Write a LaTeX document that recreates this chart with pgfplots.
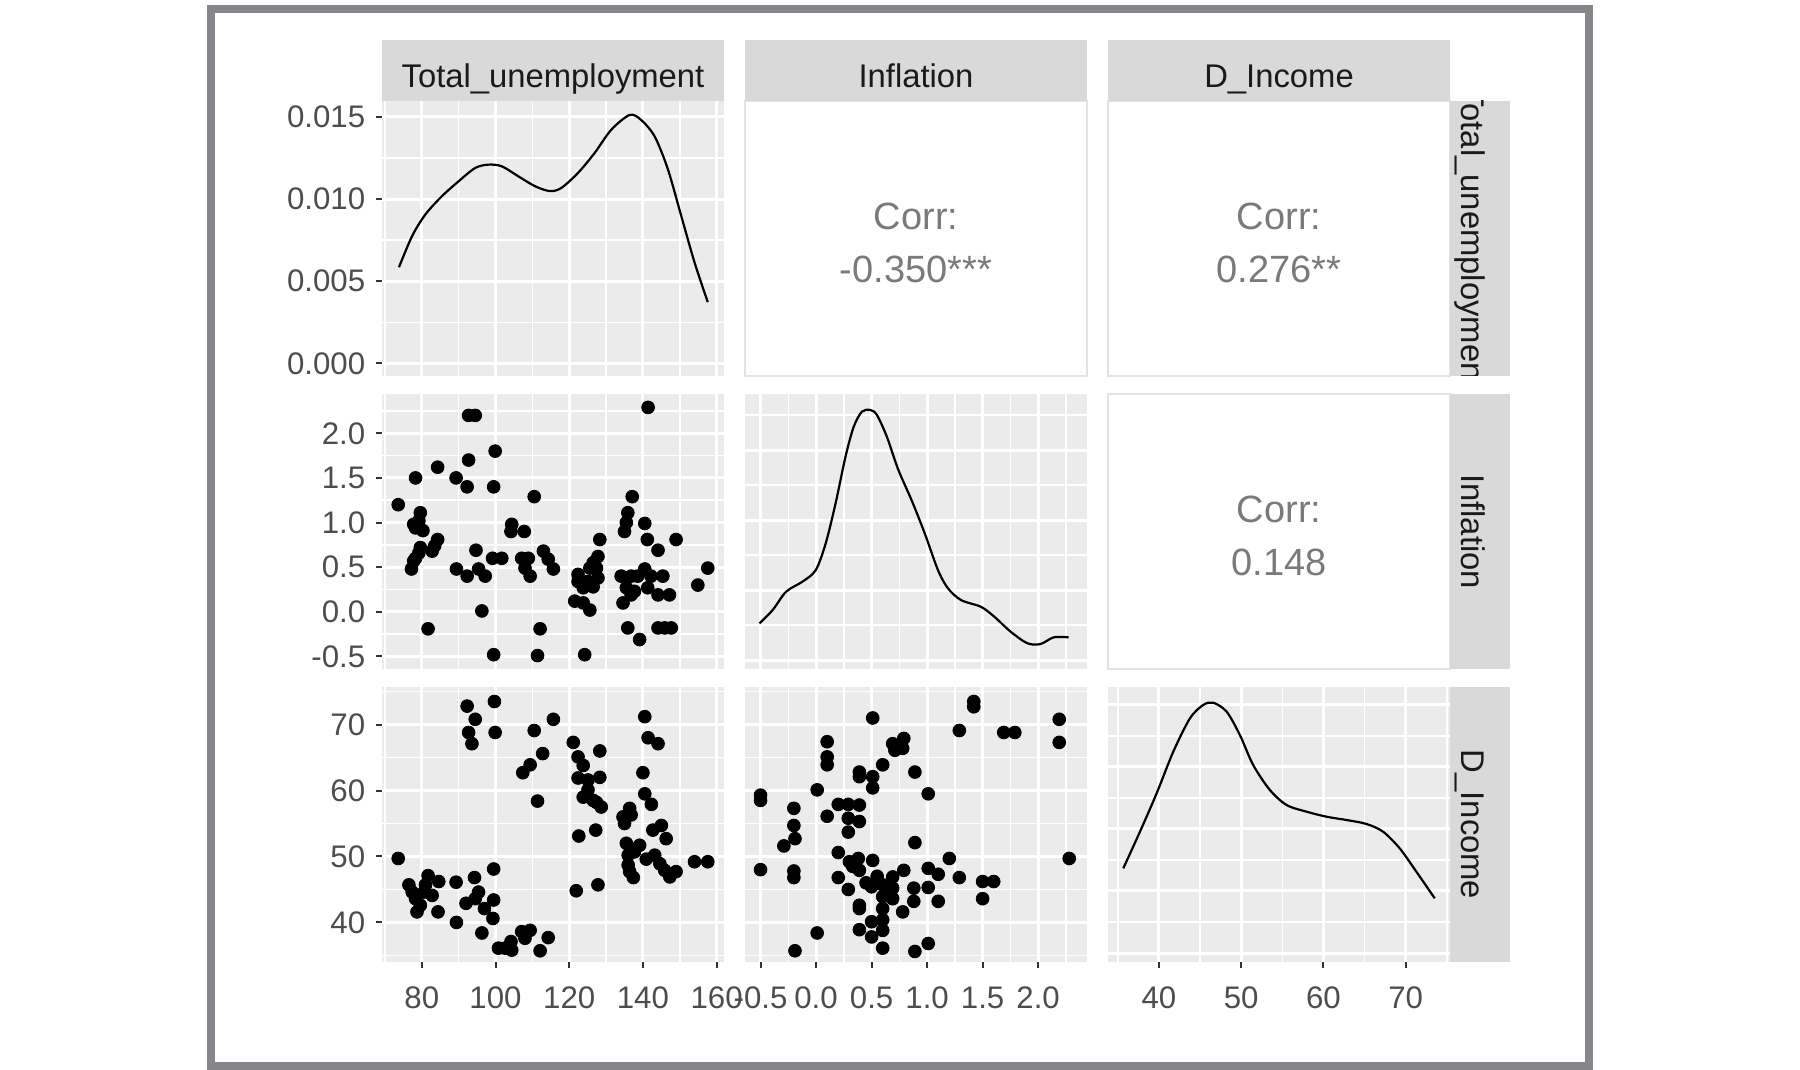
\documentclass[border=0pt]{standalone}
\usepackage{fontspec}
\setmainfont{Liberation Sans}
\usepackage{pgfplots}
\pgfplotsset{compat=1.18}
\definecolor{pbg}{HTML}{EBEBEB}
\definecolor{stripbg}{HTML}{D9D9D9}
\definecolor{labc}{HTML}{4D4D4D}
\definecolor{stripc}{HTML}{1A1A1A}
\definecolor{tickc}{HTML}{333333}
\definecolor{corrc}{HTML}{7A7A7A}
\definecolor{framec}{HTML}{86868A}
\definecolor{corrborder}{HTML}{E3E3E3}
\newcommand{\tickfont}{\fontsize{15.6}{18}\selectfont}
\newcommand{\stripfont}{\fontsize{16.4}{19}\selectfont}
\newcommand{\corrfont}{\fontsize{19}{22}\selectfont}
\pgfplotsset{
  gg/.style={
    scale only axis, width=171pt, height=137.5pt, anchor=south west,
    axis background/.style={fill=pbg},
    axis line style={draw=none},
    grid=both,
    major grid style={draw=white, line width=1.5pt},
    minor grid style={draw=white, line width=0.8pt},
    tick align=outside,
    major tick length=3.2pt, minor tick length=0pt,
    tick style={color=tickc, line width=1pt},
    xtick pos=bottom, ytick pos=left,
    scaled ticks=false,
    ticklabel style={font=\tickfont, text=labc, inner sep=0pt},
    xticklabel style={anchor=north, yshift=-9pt},
    yticklabel style={anchor=east, xshift=-5pt},
  },
  tux/.style={xmin=69.2, xmax=162, xtick={80,100,120,140,160}, minor xtick={70,90,110,130,150}, xticklabels={80,100,120,140,160}},
  infx/.style={xmin=-0.64, xmax=2.44, xtick={-0.5,0,0.5,1,1.5,2}, minor xtick={-0.25,0.25,0.75,1.25,1.75,2.25}, xticklabels={-0.5,0.0,0.5,1.0,1.5,2.0}},
  dix/.style={xmin=33.8, xmax=75.4, xtick={40,50,60,70}, minor xtick={35,45,55,65,75}, xticklabels={40,50,60,70}},
  infy/.style={ymin=-0.64, ymax=2.44, ytick={-0.5,0,0.5,1,1.5,2}, minor ytick={-0.25,0.25,0.75,1.25,1.75,2.25}, yticklabels={-0.5,0.0,0.5,1.0,1.5,2.0}},
  diy/.style={ymin=34.0, ymax=75.7, ytick={40,50,60,70}, minor ytick={35,45,55,65,75}, yticklabels={40,50,60,70}},
  pts/.style={only marks, mark=*, mark size=3.2pt, black, mark options={draw=black, fill=black}},
  dens/.style={black, line width=1.1pt, no marks, smooth},
}
\begin{document}
\begin{tikzpicture}
\useasboundingbox (0,0) rectangle (900pt,535pt);
\fill[white] (0,0) rectangle (900pt,535pt);

% ---- Row 1, Col 1: density of Total_unemployment
\begin{axis}[gg, tux, at={(191pt,347pt)}, xmajorticks=false,
  ymin=-0.00076, ymax=0.01596, ytick={0,0.005,0.01,0.015}, minor ytick={0.0025,0.0075,0.0125},
  yticklabels={0.000,0.005,0.010,0.015}]
\addplot[dens] coordinates {
(73.8,0.00585) (77.4,0.00776) (81.0,0.00907) (85.5,0.01018) (90.0,0.01108) (94.5,0.01189)
(98.1,0.01209) (101.7,0.01199) (106.2,0.01138) (110.7,0.01078) (114.8,0.01048) (117.9,0.01068)
(122.4,0.01159) (126.9,0.01280) (131.4,0.01421) (136.4,0.01511) (139.5,0.01481) (143.2,0.01380)
(146.8,0.01179) (150.4,0.00897) (154.0,0.00615) (157.6,0.00373)};
\end{axis}

% ---- Row 2, Col 1: Total_unemployment vs Inflation
\begin{axis}[gg, tux, infy, at={(191pt,200.5pt)}, xmajorticks=false]
\addplot[pts] coordinates {
(73.6,1.20) (78.3,1.50) (79.6,1.11) (79.2,1.02) (78.3,0.94) (80.3,0.91) (77.8,0.98)
(84.3,1.62) (81.7,-0.19) (77.2,0.48) (78.3,0.60) (79.6,0.72) (82.8,0.68) (84.3,0.81)
(77.8,0.57) (79.2,0.66) (83.5,0.74)
(92.7,2.20) (94.5,2.20) (92.7,1.70) (89.3,1.50) (92.3,1.40) (99.9,1.80) (99.5,1.40)
(89.4,0.48) (92.3,0.40) (94.7,0.69) (95.4,0.48) (97.2,0.40) (96.3,0.01) (99.2,0.60)
(101.7,0.60) (99.5,-0.48) (104.4,0.98) (104.2,0.90) (107.8,0.90) (110.5,1.29)
(107.1,0.60) (108.9,0.60) (108.0,0.49) (109.4,0.40) (113.0,0.68) (114.3,0.59) (115.7,0.48)
(112.1,-0.19) (111.4,-0.49)
(128.3,0.81) (127.8,0.62) (127.4,0.49) (125.6,0.49) (122.4,0.42) (122.4,0.34) (123.8,0.27)
(125.1,0.34) (127.8,0.38) (121.5,0.12) (123.8,0.10) (125.6,0.02) (124.2,-0.48)
(126.5,0.55) (124.5,0.30) (126.5,0.28)
(137.1,1.29) (135.9,1.11) (135.5,1.00) (135.0,0.90) (140.5,0.99) (141.2,0.81) (144.1,0.69)
(149.0,0.81) (140.5,0.48) (134.1,0.40) (136.8,0.40) (138.6,0.40) (142.2,0.40) (145.4,0.40)
(135.5,0.27) (137.7,0.23) (141.3,0.27) (144.1,0.19) (147.2,0.19) (134.6,0.10) (136.8,0.19)
(135.9,-0.18) (139.1,-0.31) (141.4,2.29) (144.1,-0.18) (145.9,-0.18) (147.7,-0.18)
(154.9,0.30) (157.6,0.49)};
\end{axis}

% ---- Row 3, Col 1: Total_unemployment vs D_Income
\begin{axis}[gg, tux, diy, at={(191pt,54pt)}]
\addplot[pts] coordinates {
(73.6,49.7) (77.4,44.6) (78.3,43.6) (78.7,41.6) (79.6,42.6) (81.0,45.7) (81.7,47.1)
(82.8,44.1) (84.6,46.2) (84.4,41.6) (80.6,44.6) (76.5,45.7)
(89.3,46.1) (89.4,40.0) (92.3,72.8) (94.5,70.8) (92.7,68.8) (93.6,67.1) (99.7,73.5) (99.9,68.8)
(92.0,42.9) (94.3,46.8) (95.4,44.6) (94.5,43.6) (97.0,42.1) (99.5,48.1) (99.5,43.4) (99.3,40.6)
(96.3,38.4) (100.8,36.1) (102.6,36.1) (104.4,35.8) (104.2,37.1) (107.1,38.6) (109.4,38.8)
(108.0,37.6) (112.1,35.7) (114.3,37.7)
(107.4,62.7) (109.4,63.9) (110.5,69.1) (112.8,65.6) (111.4,58.4) (115.7,70.8)
(121.1,67.3) (122.4,65.1) (123.8,63.8) (122.4,61.9) (123.8,59.0) (125.1,60.1) (125.1,61.6)
(126.5,58.5) (128.3,66.0) (128.3,62.0) (127.4,58.2) (128.7,57.5) (122.6,53.1) (127.2,54.0)
(121.9,44.8) (127.8,45.7)
(140.5,71.2) (141.4,68.0) (144.1,67.1) (140.0,62.7) (140.5,59.5) (142.3,57.9) (134.6,56.0)
(136.4,57.3) (135.0,55.0) (136.8,56.3) (142.7,54.0) (145.0,54.7) (146.3,52.7) (135.5,52.0)
(139.1,51.7) (136.0,50.2) (136.0,48.7) (136.4,47.7) (137.4,46.8) (140.9,49.6) (143.2,50.2)
(144.6,48.9) (145.9,47.9) (147.3,46.9) (149.0,47.7) (154.0,49.2) (157.6,49.2) (137.7,50.7)};
\end{axis}

% ---- Row 2, Col 2: density of Inflation
\begin{axis}[gg, infx, at={(372.5pt,200.5pt)}, xmajorticks=false, ymajorticks=false,
  ymin=-0.032, ymax=0.95, ytick={0,0.25,0.5,0.75}, minor ytick={0.125,0.375,0.625,0.875}]
\addplot[dens] coordinates {
(-0.509,0.131) (-0.39,0.179) (-0.27,0.244) (-0.122,0.280) (-0.003,0.321) (0.087,0.417)
(0.176,0.56) (0.265,0.726) (0.339,0.833) (0.413,0.887) (0.488,0.893) (0.548,0.875)
(0.637,0.798) (0.741,0.679) (0.86,0.571) (0.979,0.452) (1.098,0.321) (1.188,0.256)
(1.306,0.214) (1.485,0.19) (1.604,0.155) (1.753,0.101) (1.902,0.06) (2.02,0.057)
(2.14,0.081) (2.274,0.081)};
\end{axis}

% ---- Row 3, Col 2: Inflation vs D_Income
\begin{axis}[gg, infx, diy, at={(372.5pt,54pt)}, ymajorticks=false]
\addplot[pts] coordinates {
(-0.5,59.3) (-0.5,58.5) (-0.5,48.0) (-0.19,35.7) (-0.20,57.3) (-0.20,54.7) (-0.19,52.7)
(-0.29,51.6) (-0.20,47.8) (-0.20,46.8) (0.01,60.1) (0.01,38.4) (0.10,67.4) (0.10,65.1)
(0.10,63.9) (0.10,56.1) (0.20,57.9) (0.20,50.6) (0.20,46.8) (0.29,57.9) (0.29,55.8)
(0.29,53.7) (0.30,49.2) (0.29,45.0) (0.39,57.8) (0.39,55.3) (0.39,62.8) (0.39,62.1)
(0.38,49.7) (0.39,47.9) (0.39,42.6) (0.39,42.1) (0.39,38.9) (0.51,71.0) (0.51,62.1)
(0.51,60.4) (0.51,49.4) (0.50,45.4) (0.50,40.1) (0.50,37.8) (0.60,63.9) (0.60,45.7)
(0.60,43.9) (0.60,42.1) (0.60,40.4) (0.60,38.8) (0.60,36.1) (0.69,46.9) (0.69,45.2)
(0.69,43.6) (0.69,67.1) (0.71,66.1) (0.79,67.9) (0.78,66.4) (0.79,47.9) (0.78,41.6)
(0.89,62.8) (0.89,52.1) (0.88,45.2) (0.88,43.2) (0.89,35.6) (1.01,59.5) (1.01,48.2)
(1.01,45.3) (1.01,36.8) (1.10,47.3) (1.10,43.2) (1.20,49.7) (1.29,69.1) (1.29,46.8)
(1.42,73.5) (1.42,72.7) (1.50,46.2) (1.60,46.2) (1.50,43.6) (1.69,68.8) (1.79,68.8)
(2.19,70.8) (2.19,67.3) (2.28,49.7) (0.55,47.0) (0.65,44.5) (0.45,46.0) (0.33,48.5)};
\end{axis}

% ---- Row 3, Col 3: density of D_Income
\begin{axis}[gg, dix, at={(554pt,54pt)}, ymajorticks=false,
  ymin=-0.00145, ymax=0.0429, ytick={0,0.01,0.02,0.03,0.04}, minor ytick={0.005,0.015,0.025,0.035}]
\addplot[dens] coordinates {
(35.66,0.01366) (37.69,0.01957) (39.72,0.02576) (41.74,0.03247) (43.77,0.03785) (45.38,0.04000)
(46.6,0.04037) (48.23,0.03892) (49.84,0.03516) (51.46,0.03032) (53.49,0.02629) (55.52,0.02387)
(57.95,0.02279) (60.38,0.02198) (62.81,0.02145) (65.24,0.02081) (67.25,0.01957) (69.28,0.01688)
(71.31,0.01311) (73.54,0.00882)};
\end{axis}

% ---- upper correlation panels
\draw[corrborder, line width=0.8pt, fill=white] (372.5pt,347pt) rectangle (543.5pt,484.5pt);
\draw[corrborder, line width=0.8pt, fill=white] (554pt,347pt) rectangle (725pt,484.5pt);
\draw[corrborder, line width=0.8pt, fill=white] (554pt,200.5pt) rectangle (725pt,338pt);
\node[anchor=base, text=corrc, font=\corrfont, inner sep=0pt] at (458pt,420pt) {Corr:};
\node[anchor=base, text=corrc, font=\corrfont, inner sep=0pt] at (458pt,393.5pt) {-0.350***};
\node[anchor=base, text=corrc, font=\corrfont, inner sep=0pt] at (639.5pt,420pt) {Corr:};
\node[anchor=base, text=corrc, font=\corrfont, inner sep=0pt] at (639.5pt,393.5pt) {0.276**};
\node[anchor=base, text=corrc, font=\corrfont, inner sep=0pt] at (639.5pt,273.5pt) {Corr:};
\node[anchor=base, text=corrc, font=\corrfont, inner sep=0pt] at (639.5pt,247pt) {0.148};

% ---- top strips
\fill[stripbg] (191pt,484.5pt) rectangle (362pt,515pt);
\fill[stripbg] (372.5pt,484.5pt) rectangle (543.5pt,515pt);
\fill[stripbg] (554pt,484.5pt) rectangle (725pt,515pt);
\node[anchor=base, text=stripc, font=\stripfont, inner sep=0pt] at (276.5pt,491.3pt) {Total\_unemployment};
\node[anchor=base, text=stripc, font=\stripfont, inner sep=0pt] at (458pt,491.3pt) {Inflation};
\node[anchor=base, text=stripc, font=\stripfont, inner sep=0pt] at (639.5pt,491.3pt) {D\_Income};

% ---- right strips
\fill[stripbg] (725pt,347pt) rectangle (755pt,484.5pt);
\fill[stripbg] (725pt,200.5pt) rectangle (755pt,338pt);
\fill[stripbg] (725pt,54pt) rectangle (755pt,191.5pt);
\begin{scope}
\clip (725pt,347pt) rectangle (755pt,484.5pt);
\node[anchor=base, rotate=-90, text=stripc, font=\stripfont, inner sep=0pt] at (730.5pt,415.75pt) {Total\_unemployment};
\end{scope}
\node[anchor=base, rotate=-90, text=stripc, font=\stripfont, inner sep=0pt] at (730.5pt,269.25pt) {Inflation};
\node[anchor=base, rotate=-90, text=stripc, font=\stripfont, inner sep=0pt] at (730.5pt,122.75pt) {D\_Income};

% ---- outer frame
\draw[framec, line width=4pt] (105.5pt,2pt) rectangle (794.5pt,530.5pt);
\end{tikzpicture}
\end{document}
